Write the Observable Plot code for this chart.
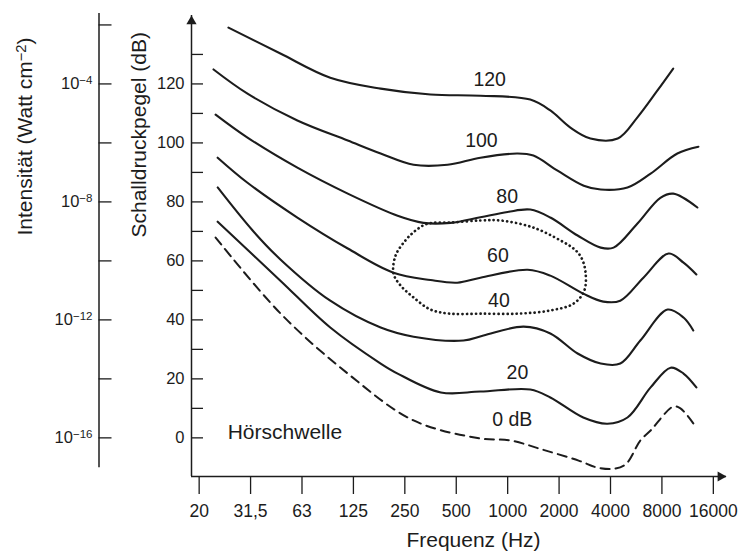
<!DOCTYPE html>
<html><head><meta charset="utf-8">
<script src="https://cdn.jsdelivr.net/npm/d3@7"></script>
<script src="https://cdn.jsdelivr.net/npm/@observablehq/plot@0.6"></script>
<style>html,body{margin:0;padding:0;background:#fff;}</style>
</head><body><div id="chart"></div>
<script>
// Octave-band tick labels (x is the band position 0..10)
const freqLabels = ["20","31,5","63","125","250","500","1000","2000","4000","8000","16000"];
// Sound pressure level ticks (dB)
const dbTicks = [0,10,20,30,40,50,60,70,80,90,100,110,120,130];
const dbLabelled = [0,20,40,60,80,100,120];
// Intensity axis (W cm^-2): ticks every 20 dB, labelled exponents
const intensityTicksDb = [0,20,40,60,80,100,120,140];
const intensityExponents = [-4,-8,-12,-16];

// Equal-loudness contours: [band position, dB]
const curve120 = [[0.57,139.1],[1.58,130.3],[2.55,122.1],[3.53,118.4],[4.50,116.4],[5.47,116.0],[6.44,114.7],[6.83,111.0],[7.22,105.2],[7.61,101.5],[8.14,101.5],[8.52,108.6],[8.91,117.7],[9.22,125.2]];
const curve100 = [[0.28,124.9],[0.94,116.7],[1.91,107.6],[2.89,100.8],[3.53,96.4],[4.17,92.6],[4.83,92.6],[5.47,95.0],[6.19,96.4],[6.50,95.7],[6.97,90.6],[7.48,85.5],[7.81,84.2],[8.33,84.9],[8.78,89.6],[9.30,96.4],[9.71,98.7]];
const curve80 = [[0.32,109.6],[0.94,101.8],[1.91,91.6],[2.89,82.8],[3.86,75.3],[4.36,72.9],[4.89,72.9],[5.47,74.8],[6.00,76.6],[6.44,77.4],[6.83,74.7],[7.36,68.6],[7.81,64.5],[8.06,64.5],[8.52,72.6],[8.97,81.4],[9.22,82.8],[9.69,78.1]];
const curve60 = [[0.36,95.0],[0.94,86.5],[1.91,74.7],[2.89,64.2],[3.78,56.0],[4.50,53.5],[5.02,52.6],[5.47,54.3],[6.39,57.0],[6.83,55.0],[7.47,48.9],[7.86,46.2],[8.19,46.5],[8.64,54.3],[9.13,62.5],[9.42,59.4],[9.67,55.4]];
const curve40 = [[0.36,84.9],[1.04,70.3],[1.58,60.5],[2.55,46.5],[3.53,37.4],[4.17,34.3],[5.14,33.0],[5.53,34.7],[6.31,37.7],[6.83,35.4],[7.36,28.6],[7.81,25.2],[8.19,25.2],[8.58,33.0],[9.11,43.5],[9.42,40.8],[9.61,36.4]];
const curve20 = [[0.36,73.3],[1.58,53.3],[2.55,37.4],[3.53,25.2],[3.86,21.8],[4.70,15.4],[5.47,15.7],[6.44,16.4],[6.83,13.7],[7.47,6.9],[7.94,4.8],[8.33,6.9],[8.78,17.1],[9.17,23.8],[9.42,21.8],[9.67,17.1]];
// Hearing threshold (0 dB contour, dashed)
const threshold0 = [[0.32,67.9],[1.58,42.2],[2.89,21.8],[4.17,5.9],[5.47,-0.2],[6.06,-0.9],[6.68,-4.0],[7.38,-7.7],[7.75,-10.1],[8.10,-10.4],[8.31,-8.7],[8.58,-0.9],[8.78,2.5],[9.22,10.6],[9.36,10.0],[9.61,4.9]];
// Speech area (dotted closed loop)
const speechArea = [[3.78,55.7],[3.82,61.8],[4.01,66.9],[4.21,70.3],[4.44,72.6],[4.89,73.0],[5.47,73.7],[5.86,73.7],[6.50,71.3],[7.03,66.9],[7.28,64.2],[7.42,61.5],[7.51,56.7],[7.49,49.9],[7.28,45.5],[6.83,43.2],[6.19,42.1],[5.47,42.1],[4.89,42.1],[4.50,43.5],[4.17,47.6],[3.92,51.6]];

const curveLabelText = ["120","100","80","60","40","20","0 dB"];
const curveLabelF = [5.65,5.49,5.99,5.81,5.83,6.19,6.09];
const curveLabelDb = [121.3,100.9,81.8,61.6,46.4,22.0,6.0];

const xTitle = "Frequenz (Hz)";
const yTitle = "Schalldruckpegel (dB)";
const intensityTitle = "Intensität (Watt cm^−2)";
const thresholdText = "Hörschwelle";
const thresholdTextPos = [0.555, 1.8];

const solidCurves = [["120",curve120],["100",curve100],["80",curve80],["60",curve60],["40",curve40],["20",curve20]];
const solidData = solidCurves.flatMap(([lvl, pts]) => pts.map(([f, db]) => ({lvl, f, db})));
const labelData = curveLabelText.map((t, i) => ({t, f: curveLabelF[i], db: curveLabelDb[i]}));

const xDomain = [-0.149, 10.256];
const yDomain = [-13.1, 143.2];
const ink = "#1c1c1c";
const font = "'Liberation Sans', Arial, Helvetica, sans-serif";

const chart = Plot.plot({
  width: 748, height: 557,
  marginLeft: 191, marginRight: 22, marginTop: 15, marginBottom: 81,
  x: {domain: xDomain},
  y: {domain: yDomain},
  style: {fontFamily: font, background: "#fff", color: ink},
  marks: [
    // axis lines
    Plot.ruleX([xDomain[0]], {stroke: ink, strokeWidth: 1.5}),
    Plot.ruleY([yDomain[0]], {stroke: ink, strokeWidth: 1.5}),
    Plot.dot([{x: xDomain[0], y: yDomain[1]}], {x: "x", y: "y", symbol: "triangle", r: 3.8, fill: ink, stroke: null, dy: 5.9}),
    Plot.dot([{x: xDomain[1], y: yDomain[0]}], {x: "x", y: "y", symbol: "triangle", r: 3.8, fill: ink, stroke: null, rotate: 90, dx: -5.9}),
    // dB axis (ticks inward)
    Plot.axisY(dbTicks, {tickSize: -12, tickPadding: 19, tickFormat: d => dbLabelled.includes(d) ? String(d) : "", fontSize: 16.5, color: ink, strokeWidth: 1.3, label: null}),
    // intensity axis, offset to the left
    Plot.ruleX([xDomain[0]], {y1: -10.1, y2: 143.9, dx: -92.5, stroke: ink, strokeWidth: 1.5}),
    Plot.axisY(intensityTicksDb, {tickSize: -13, dx: -92.5, tickFormat: () => "", color: ink, strokeWidth: 1.3, label: null}),
    Plot.text(intensityExponents, {y: e => 10 * (e + 16), text: e => "10^" + String(e).replace("-", "−"), frameAnchor: "left", textAnchor: "end", dx: -99, fontSize: 16.5, fill: ink}),
    // frequency axis
    Plot.axisX(freqLabels.map((_, i) => i), {tickSize: 18, tickPadding: 10, tickFormat: i => freqLabels[i], fontSize: 17.5, color: ink, strokeWidth: 1.3, label: null}),
    // curves
    Plot.line(solidData, {x: "f", y: "db", z: "lvl", curve: "catmull-rom", stroke: ink, strokeWidth: 2.1}),
    Plot.line(threshold0, {x: d => d[0], y: d => d[1], curve: "catmull-rom", stroke: ink, strokeWidth: 2, strokeDasharray: "9,6"}),
    Plot.line(speechArea, {x: d => d[0], y: d => d[1], curve: "catmull-rom-closed", stroke: ink, strokeWidth: 2.7, strokeDasharray: "0.1,4.4", strokeLinecap: "round"}),
    // labels
    Plot.text(labelData, {x: "f", y: "db", text: "t", fontSize: 19.5, fill: ink}),
    Plot.text([thresholdText], {x: thresholdTextPos[0], y: thresholdTextPos[1], textAnchor: "start", fontSize: 21, fill: ink}),
    Plot.text([xTitle], {frameAnchor: "bottom", dy: 70, dx: 14.5, fontSize: 21, fill: ink}),
    Plot.text([yTitle], {frameAnchor: "left", rotate: -90, dx: -52.5, dy: -8.5, fontSize: 21, fill: ink}),
    Plot.text([intensityTitle], {frameAnchor: "left", rotate: -90, dx: -166, dy: -10.5, fontSize: 21, fill: ink})
  ]
});

// Render "^" exponents as real superscript tspans
d3.select(chart).selectAll("text").each(function() {
  const el = this;
  const s = el.textContent;
  const m = s.match(/^(.*)\^([−\-]?\d+)(.*)$/);
  if (!m) return;
  const sel = d3.select(el);
  sel.text(null);
  sel.append("tspan").text(m[1]);
  sel.append("tspan").attr("baseline-shift", "38%").attr("font-size", "70%").text(m[2]);
  if (m[3]) sel.append("tspan").text(m[3]);
});

document.getElementById("chart").appendChild(chart);
</script></body></html>
